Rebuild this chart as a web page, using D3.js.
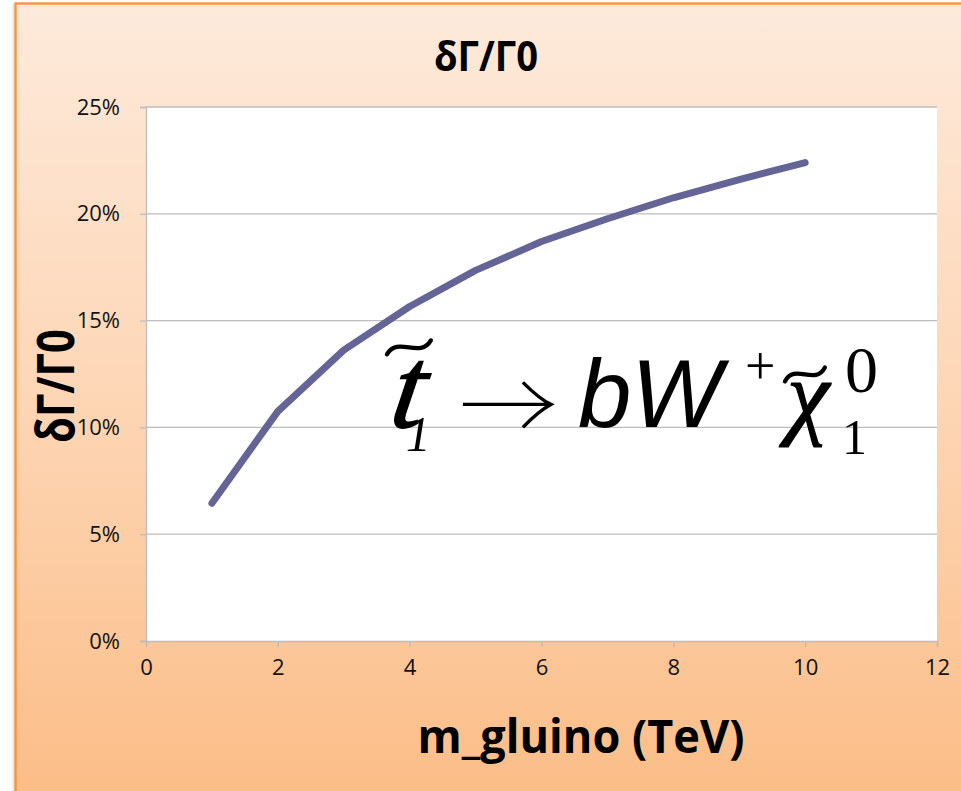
<!DOCTYPE html>
<html>
<head>
<meta charset="utf-8">
<script src="https://cdn.jsdelivr.net/npm/d3@7"></script>
<style>
  html, body { margin: 0; padding: 0; background: #ffffff; }
  svg { display: block; }
</style>
</head>
<body>
<div id="chart"></div>
<script>
// Relative width change δΓ/Γ0 of the stop decay vs gluino mass
const massTeV = [1, 2, 3, 4, 5, 6, 7, 8, 9, 10];
const deltaGammaPct = [6.45, 10.75, 13.62, 15.66, 17.35, 18.7, 19.77, 20.75, 21.6, 22.4];
const xTicks = [0, 2, 4, 6, 8, 10, 12];
const yTicks = [0, 5, 10, 15, 20, 25];
const titleText = "δΓ/Γ0";
const xLabelText = "m_gluino (TeV)";
const yLabelText = "δΓ/Γ0";

const W = 961, H = 791;
const plot = { left: 146, right: 937, top: 107, bottom: 641 };

const svg = d3.select("#chart").append("svg")
  .attr("width", W).attr("height", H);

// background panel with a vertical peach gradient
const defs = svg.append("defs");
const grad = defs.append("linearGradient")
  .attr("id", "panelFill").attr("x1", 0).attr("y1", 0).attr("x2", 0).attr("y2", 1);
grad.append("stop").attr("offset", "0%").attr("stop-color", "#fdeadb");
grad.append("stop").attr("offset", "50%").attr("stop-color", "#fdd6b5");
grad.append("stop").attr("offset", "100%").attr("stop-color", "#fbbd87");

svg.append("line")
  .attr("x1", 13.5).attr("x2", 13.5).attr("y1", 4).attr("y2", H)
  .attr("stroke", "#e6e6e6").attr("stroke-width", 2);
svg.append("rect")
  .attr("x", 15.5).attr("y", 3.5).attr("width", W).attr("height", H)
  .attr("fill", "url(#panelFill)")
  .attr("stroke", "#f79646").attr("stroke-width", 2.5);

// plot area
svg.append("rect")
  .attr("x", plot.left).attr("y", plot.top)
  .attr("width", plot.right - plot.left).attr("height", plot.bottom - plot.top)
  .attr("fill", "#ffffff");

const x = d3.scaleLinear().domain([0, 12]).range([plot.left, plot.right]);
const y = d3.scaleLinear().domain([0, 25]).range([plot.bottom, plot.top]);

const tickFont = "'Open Sans', Lato, sans-serif";
const gridColor = "#bdbdbd";

// horizontal gridlines
svg.append("g").selectAll("line").data(yTicks.filter(d => d > 0)).join("line")
  .attr("x1", plot.left).attr("x2", plot.right)
  .attr("y1", d => y(d)).attr("y2", d => y(d))
  .attr("stroke", gridColor).attr("stroke-width", 1.3);

// y axis
const yAxis = svg.append("g")
  .attr("transform", `translate(${plot.left},0)`)
  .call(d3.axisLeft(y).tickValues(yTicks).tickFormat(d => d + "%").tickSize(6).tickPadding(20));
yAxis.select(".domain").attr("stroke", gridColor).attr("stroke-width", 1.3);
yAxis.selectAll(".tick line").attr("stroke", gridColor).attr("stroke-width", 1.3);
yAxis.selectAll(".tick text")
  .attr("font-family", tickFont).attr("font-size", 22).attr("fill", "#111");

// x axis
const xAxis = svg.append("g")
  .attr("transform", `translate(0,${plot.bottom})`)
  .call(d3.axisBottom(x).tickValues(xTicks).tickFormat(d3.format("d")).tickSize(6).tickPadding(12));
xAxis.select(".domain").attr("stroke", gridColor).attr("stroke-width", 1.3);
xAxis.selectAll(".tick line").attr("stroke", gridColor).attr("stroke-width", 1.3);
xAxis.selectAll(".tick text")
  .attr("font-family", tickFont).attr("font-size", 22).attr("fill", "#111");

// data line
const line = d3.line().x((d, i) => x(massTeV[i])).y(d => y(d));
svg.append("path")
  .datum(deltaGammaPct)
  .attr("d", line)
  .attr("fill", "none")
  .attr("stroke", "#646496")
  .attr("stroke-width", 7)
  .attr("stroke-linecap", "round")
  .attr("stroke-linejoin", "round");

// titles
const boldFont = "'Open Sans', Lato, sans-serif";
svg.append("text")
  .attr("x", 486).attr("y", 71)
  .attr("text-anchor", "middle")
  .attr("font-family", boldFont).attr("font-weight", "bold").attr("font-size", 42)
  .attr("textLength", 104).attr("lengthAdjust", "spacingAndGlyphs")
  .text(titleText);

svg.append("text")
  .attr("x", 581).attr("y", 753)
  .attr("text-anchor", "middle")
  .attr("font-family", boldFont).attr("font-weight", "bold").attr("font-size", 47)
  .attr("textLength", 327).attr("lengthAdjust", "spacingAndGlyphs")
  .text(xLabelText);

svg.append("text")
  .attr("transform", "translate(74,386) rotate(-90)")
  .attr("text-anchor", "middle")
  .attr("font-family", boldFont).attr("font-weight", "bold").attr("font-size", 52)
  .attr("textLength", 114).attr("lengthAdjust", "spacingAndGlyphs")
  .text(yLabelText);

// decay formula  t̃1 → b W+ χ̃1^0, anchored at (3.7 TeV, 10%)
const ax = x(3.7), ay = y(10);
const serif = "'Liberation Serif', 'DejaVu Serif', serif";
const sans = "'Liberation Sans', Arial, sans-serif";
const eq = svg.append("g").attr("fill", "#000");

function tilde(cx, cy, w, a) {
  const p = d3.path();
  p.moveTo(cx - w / 2, cy + a);
  p.bezierCurveTo(cx - w / 4, cy - a * 1.7, cx + w / 4, cy + a * 1.7, cx + w / 2, cy - a);
  eq.append("path").attr("d", p.toString())
    .attr("fill", "none").attr("stroke", "#000").attr("stroke-width", 4.2)
    .attr("stroke-linecap", "round");
}

// t with subscript 1, slanted like a math italic
const tText = eq.append("text")
  .attr("transform", `translate(${ax - 2},${ay}) skewX(-9)`)
  .attr("font-family", serif);
tText.append("tspan")
  .attr("font-style", "italic").attr("font-size", 116)
  .attr("stroke", "#000").attr("stroke-width", 1.6)
  .text("t");
tText.append("tspan")
  .attr("font-size", 50).attr("dx", -13).attr("dy", 24)
  .text("1");
tilde(ax + 19, ay - 80, 44, 7);

// arrow
const arrow = d3.path();
arrow.moveTo(ax + 73, ay - 23);
arrow.lineTo(ax + 160, ay - 23);
arrow.moveTo(ax + 133, ay - 45);
arrow.quadraticCurveTo(ax + 150, ay - 28, ax + 161, ay - 23);
arrow.quadraticCurveTo(ax + 148, ay - 16, ax + 133, ay);
eq.append("path").attr("d", arrow.toString())
  .attr("fill", "none").attr("stroke", "#000").attr("stroke-width", 3.4);

// b W+ χ1^0 as one run of text, each piece placed on its own
const rest = eq.append("text");
rest.append("tspan")
  .attr("x", ax + 188).attr("y", ay)
  .attr("font-family", sans).attr("font-style", "italic").attr("font-size", 96)
  .text("bW");
rest.append("tspan")
  .attr("x", ax + 355).attr("y", ay - 43)
  .attr("font-family", serif).attr("font-size", 54)
  .text("+");
rest.append("tspan")
  .attr("x", ax + 397).attr("y", ay)
  .attr("font-family", serif).attr("font-style", "italic").attr("font-size", 96)
  .attr("stroke", "#000").attr("stroke-width", 1.2)
  .text("χ");
rest.append("tspan")
  .attr("x", ax + 452).attr("y", ay + 27)
  .attr("font-family", serif).attr("font-size", 50)
  .text("1");
rest.append("tspan")
  .attr("x", ax + 455).attr("y", ay - 35)
  .attr("font-family", serif).attr("font-size", 66)
  .text("0");
tilde(ax + 415, ay - 53, 40, 7);
</script>
</body>
</html>
